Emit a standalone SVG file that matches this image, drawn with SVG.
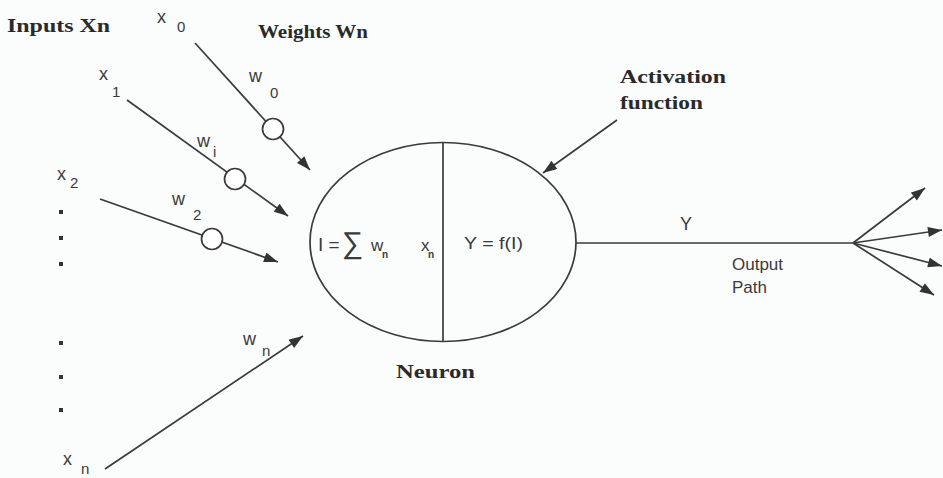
<svg xmlns="http://www.w3.org/2000/svg" width="943" height="478" viewBox="0 0 943 478">
<defs>
<style>
.ln{stroke:#3a3a3a;stroke-width:1.7;fill:none}
.wc{stroke:#3a3a3a;stroke-width:1.7;fill:#fff}
.s{font-family:"Liberation Sans",Arial,sans-serif;font-size:18px;fill:#3a3a3a}
.sub{font-family:"Liberation Sans",Arial,sans-serif;font-size:15px;fill:#3a3a3a}
.sm{font-family:"Liberation Sans",Arial,sans-serif;font-size:17px;fill:#3a3a3a}
.b{font-family:"Liberation Serif","Times New Roman",serif;font-weight:bold;font-size:18px;fill:#2a2a2a}
.dot{fill:#333}
</style>
<marker id="ah" viewBox="0 0 14 10" refX="14" refY="5" markerWidth="15" markerHeight="10" markerUnits="userSpaceOnUse" orient="auto">
<path d="M0,0 L14,5 L0,10 Z" fill="#333"/>
</marker>
</defs>
<rect width="943" height="478" fill="#fbfcfc"/>

<g id="titles">
<text class="b" x="7" y="32" textLength="103" lengthAdjust="spacingAndGlyphs">Inputs Xn</text>
<text class="b" x="258" y="38" textLength="110" lengthAdjust="spacingAndGlyphs">Weights Wn</text>
<text class="b" x="620" y="83" textLength="106" lengthAdjust="spacingAndGlyphs">Activation</text>
<text class="b" x="620" y="109" textLength="83" lengthAdjust="spacingAndGlyphs">function</text>
<text class="b" x="396" y="378" textLength="79" lengthAdjust="spacingAndGlyphs">Neuron</text>
</g>

<g id="connectors">
<line class="ln" x1="195" y1="43" x2="310" y2="170" marker-end="url(#ah)"/>
<line class="ln" x1="127" y1="100" x2="288" y2="216" marker-end="url(#ah)"/>
<line class="ln" x1="100" y1="199" x2="278" y2="262" marker-end="url(#ah)"/>
<line class="ln" x1="105" y1="469" x2="303" y2="336" marker-end="url(#ah)"/>
<line class="ln" x1="617" y1="120" x2="543" y2="173" marker-end="url(#ah)"/>
<line class="ln" x1="576" y1="243" x2="853" y2="243"/>
<line class="ln" x1="853" y1="243" x2="925" y2="188" marker-end="url(#ah)"/>
<line class="ln" x1="853" y1="243" x2="942" y2="230" marker-end="url(#ah)"/>
<line class="ln" x1="853" y1="243" x2="942" y2="266" marker-end="url(#ah)"/>
<line class="ln" x1="853" y1="243" x2="934" y2="295" marker-end="url(#ah)"/>
</g>

<g id="weight-w0"><circle class="wc" cx="273" cy="129" r="10.5"/></g>
<g id="weight-w1"><circle class="wc" cx="235" cy="179" r="10.5"/></g>
<g id="weight-w2"><circle class="wc" cx="212" cy="239" r="10.5"/></g>

<g id="inputs">
<text class="s" x="157" y="23">x</text><text class="sub" x="177" y="32">0</text>
<text class="s" x="99" y="80">x</text><text class="sub" x="112" y="97">1</text>
<text class="s" x="57" y="180">x</text><text class="sub" x="70" y="188">2</text>
<text class="s" x="63" y="465">x</text><text class="sub" x="81" y="474">n</text>
<rect class="dot" x="59" y="210" width="4" height="4"/>
<rect class="dot" x="59" y="236" width="4" height="4"/>
<rect class="dot" x="59" y="262" width="4" height="4"/>
<rect class="dot" x="59" y="341" width="4" height="4"/>
<rect class="dot" x="59" y="375" width="4" height="4"/>
<rect class="dot" x="59" y="408" width="4" height="4"/>
</g>

<g id="weights">
<text class="s" x="249" y="82">w</text><text class="sub" x="270" y="98">0</text>
<text class="s" x="197" y="147">w</text><text class="sub" x="213" y="157">i</text>
<text class="s" x="172" y="205">w</text><text class="sub" x="193" y="220">2</text>
<text class="s" x="243" y="345">w</text><text class="sub" x="262" y="356">n</text>
</g>

<g id="neuron">
<ellipse class="ln" cx="443" cy="242" rx="133" ry="99.5"/>
<line class="ln" x1="443" y1="143" x2="443" y2="342"/>
<text class="s" x="318" y="251" style="font-size:19px">I =</text>
<text class="s" x="342" y="253" style="font-size:30px">∑</text>
<text class="s" x="371" y="251" style="font-size:17px">w</text>
<text class="s" x="382" y="258" style="font-size:10px;font-weight:bold">n</text>
<text class="s" x="421" y="251" style="font-size:17px">x</text>
<text class="s" x="428" y="258" style="font-size:10px;font-weight:bold">n</text>
<text class="sm" x="464" y="249" textLength="59" lengthAdjust="spacingAndGlyphs">Y = f(I)</text>
</g>

<g id="output">
<text class="s" x="680" y="230">Y</text>
<text class="sm" x="732" y="270">Output</text>
<text class="sm" x="732" y="293">Path</text>
</g>
</svg>
